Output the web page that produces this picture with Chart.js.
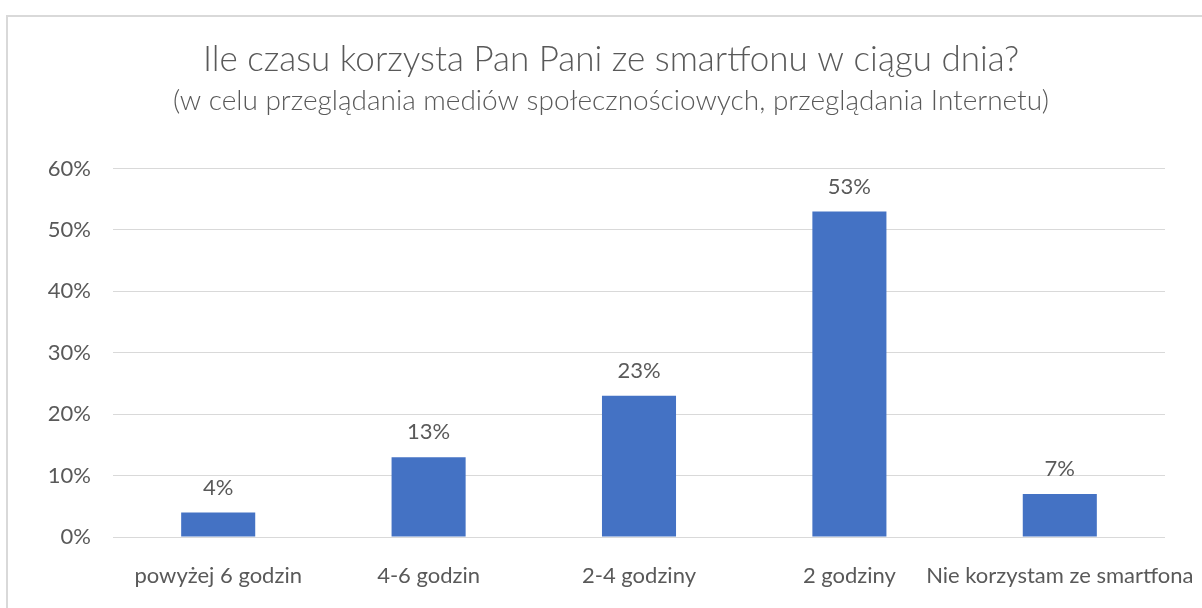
<!DOCTYPE html>
<html>
<head>
<meta charset="utf-8">
<script src="https://cdn.jsdelivr.net/npm/chart.js@4.4.1/dist/chart.umd.min.js"></script>
<style>
  html, body { margin: 0; padding: 0; background: #ffffff; }
  #wrap { width: 1202px; height: 608px; position: relative; }
</style>
</head>
<body>
<div id="wrap"><canvas id="c" width="1202" height="608"></canvas></div>
<script>
const titleText = 'Ile czasu korzysta Pan Pani ze smartfonu w ciągu dnia?';
const subtitleText = '(w celu przeglądania mediów społecznościowych, przeglądania Internetu)';
const categories = ['powyżej 6 godzin', '4-6 godzin', '2-4 godziny', '2 godziny', 'Nie korzystam ze smartfona'];
const values = [4, 13, 23, 53, 7];
const yTickMin = 0;
const yTickMax = 60;
const yTickStep = 10;

const textColor = '#595959';
const fontFamily = 'Lato, "Open Sans", sans-serif';

const frame = {
  id: 'frame',
  beforeDraw(chart) {
    const ctx = chart.ctx;
    ctx.save();
    ctx.fillStyle = '#ffffff';
    ctx.fillRect(0, 0, chart.width, chart.height);
    ctx.strokeStyle = '#d9d9d9';
    ctx.lineWidth = 2;
    ctx.strokeRect(7, 16, 1300, 700);
    ctx.restore();
  }
};

const valueLabels = {
  id: 'valueLabels',
  afterDatasetsDraw(chart) {
    const ctx = chart.ctx;
    const meta = chart.getDatasetMeta(0);
    ctx.save();
    ctx.fillStyle = textColor;
    ctx.font = '22px ' + fontFamily;
    ctx.textAlign = 'center';
    ctx.textBaseline = 'middle';
    meta.data.forEach((bar, i) => {
      ctx.fillText(values[i] + '%', bar.x, bar.y - 25);
    });
    ctx.restore();
  }
};

new Chart(document.getElementById('c'), {
  type: 'bar',
  data: {
    labels: categories,
    datasets: [{
      data: values,
      backgroundColor: '#4472C4',
      borderWidth: 0,
      categoryPercentage: 1,
      barPercentage: 0.352
    }]
  },
  options: {
    responsive: false,
    animation: false,
    devicePixelRatio: 1,
    layout: { padding: { left: 20, right: 0, top: 0, bottom: 0 } },
    plugins: {
      legend: { display: false },
      tooltip: { enabled: false },
      title: {
        display: true,
        text: titleText,
        color: textColor,
        font: { family: fontFamily, size: 35, weight: '300' },
        padding: { top: 39, bottom: 3 }
      },
      subtitle: {
        display: true,
        text: subtitleText,
        color: textColor,
        font: { family: fontFamily, size: 28, weight: '300' },
        padding: { top: 0, bottom: 51 }
      }
    },
    scales: {
      x: {
        grid: { display: false, drawTicks: false },
        border: { display: false },
        ticks: {
          color: textColor,
          font: { family: fontFamily, size: 22 },
          padding: 26,
          maxRotation: 0,
          autoSkip: false
        },
        afterFit(scale) {
          scale.height = 71;
          scale.paddingLeft = 0;
          scale.paddingRight = 0;
        }
      },
      y: {
        min: yTickMin,
        max: yTickMax,
        grid: { color: '#d9d9d9', lineWidth: 1, drawTicks: false },
        border: { display: false },
        ticks: {
          stepSize: yTickStep,
          color: textColor,
          font: { family: fontFamily, size: 22 },
          padding: 22,
          callback: (v) => v + '%'
        },
        afterFit(scale) {
          scale.width = 93;
          scale.paddingTop = 0;
          scale.paddingBottom = 0;
        }
      },
      yRight: {
        position: 'right',
        min: yTickMin,
        max: yTickMax,
        grid: { display: false, drawTicks: false },
        border: { display: false },
        ticks: { display: false },
        afterFit(scale) {
          scale.width = 37;
          scale.paddingTop = 0;
          scale.paddingBottom = 0;
        }
      }
    }
  },
  plugins: [frame, valueLabels]
});
</script>
</body>
</html>
